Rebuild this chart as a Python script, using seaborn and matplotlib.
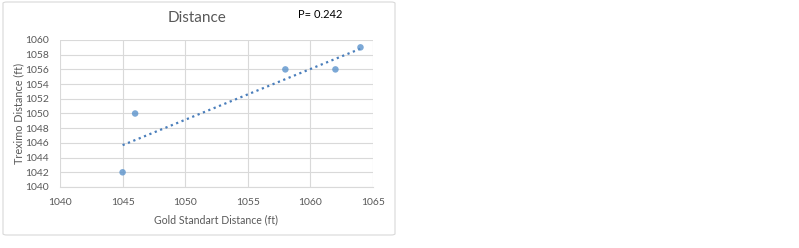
import matplotlib
matplotlib.use("Agg")
import matplotlib.pyplot as plt
import seaborn as sns
import pandas as pd
from matplotlib.patches import FancyBboxPatch

gold = [1045, 1046, 1058, 1062, 1064]
treximo = [1042, 1050, 1056, 1056, 1059]
x_ticks = [1040, 1045, 1050, 1055, 1060, 1065]
y_ticks = [1040, 1042, 1044, 1046, 1048, 1050, 1052, 1054, 1056, 1058, 1060]
title = "Distance"
p_label = "P= 0.242"

df = pd.DataFrame({"gold": gold, "treximo": treximo})

sns.set_style("white")
plt.rcParams["font.family"] = ["Lato", "DejaVu Sans"]

fig = plt.figure(figsize=(7.99, 2.48), dpi=100)
W, H = 799, 248
ax = fig.add_axes([60 / W, 1 - 187 / H, (373 - 60) / W, (187 - 40) / H])

# outer chart frame
frame = FancyBboxPatch((3 / W, 13 / H), 392 / W, 233 / H,
                       boxstyle="round,pad=0,rounding_size=0.005",
                       transform=fig.transFigure, facecolor="white",
                       edgecolor="#d9d9d9", linewidth=0.8, zorder=-10)
fig.patches.append(frame)
ax.set_zorder(1)

color = "#5b93cc"
sns.regplot(data=df, x="gold", y="treximo", ax=ax, ci=None, truncate=True,
            scatter_kws=dict(s=22, color=color, edgecolor="none", zorder=3),
            line_kws=dict(color="#4a7ebb", linestyle=(0, (1, 1.6)), linewidth=1.6, zorder=2))

ax.set_xlim(1040, 1065)
ax.set_ylim(1040, 1060)
ax.set_xticks(x_ticks)
ax.set_yticks(y_ticks)
ax.grid(True, color="#d9d9d9", linewidth=0.8)
ax.set_axisbelow(True)
for s in ["top", "right", "left"]:
    ax.spines[s].set_visible(False)
ax.spines["bottom"].set_color("#d9d9d9")
ax.tick_params(axis="both", length=0, labelsize=7.5, colors="#595959")
ax.tick_params(axis="x", pad=8)
ax.tick_params(axis="y", pad=8)
ax.set_xlabel("Gold Standart Distance (ft)", fontsize=7.6, color="#595959", labelpad=5)
ax.set_ylabel("Treximo Distance (ft)", fontsize=7.8, color="#595959", labelpad=0.5)

fig.text(197 / W, 1 - 18 / H, title, ha="center", va="center", fontsize=11, color="#595959")
fig.text(298 / W, 1 - 15 / H, p_label, ha="left", va="center", fontsize=8, color="#000000")

fig.savefig("out.png", dpi=100)
